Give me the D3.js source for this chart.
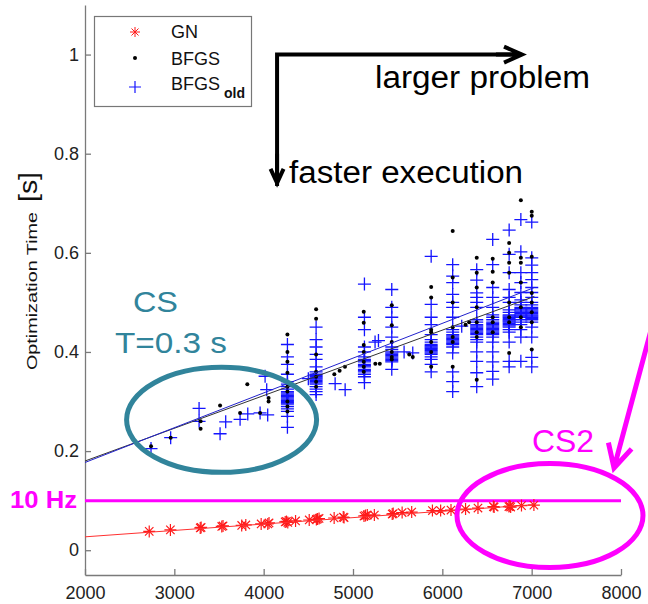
<!DOCTYPE html>
<html>
<head>
<meta charset="utf-8">
<script src="https://cdn.jsdelivr.net/npm/d3@7"></script>
<style>
  body { margin: 0; background: #fff; }
  svg { font-family: Arial, "Liberation Sans", sans-serif; }
</style>
</head>
<body>
<svg id="chart" width="648" height="604"></svg>
<script>
// problem size vs optimization time
const xTicks = [2000, 3000, 4000, 5000, 6000, 7000, 8000];
const yTicks = [0, 0.2, 0.4, 0.6, 0.8, 1];

// GN: [size, time]
const gnPoints = [
    [2719, 0.038], [2956, 0.041], [3290, 0.045], [3300, 0.046], [3531, 0.048], [3545, 0.049],
    [3754, 0.05], [3800, 0.051], [3972, 0.053], [4046, 0.053], [4060, 0.055], [4241, 0.057],
    [4255, 0.058], [4270, 0.056], [4357, 0.059], [4510, 0.061], [4590, 0.062], [4603, 0.063],
    [4620, 0.064], [4789, 0.065], [4891, 0.067], [4900, 0.066], [5123, 0.069], [5140, 0.07],
    [5160, 0.071], [5239, 0.071], [5439, 0.073], [5450, 0.074], [5550, 0.076], [5657, 0.077],
    [5889, 0.08], [5981, 0.08], [6097, 0.081], [6260, 0.083], [6399, 0.085], [6571, 0.088],
    [6580, 0.087], [6745, 0.088], [6756, 0.089], [6765, 0.087], [6886, 0.09], [7025, 0.091]
];

// BFGS: [size, [times]]
const bfgsColumns = [
    [2739, [0.21]], [2959, [0.227]], [3294, [0.26, 0.245]], [3512, [0.292]], [3736, [0.277]],
    [3817, [0.335]], [3960, [0.277]], [4055, [0.307, 0.3]],
    [4266, [0.435, 0.4, 0.38, 0.358, 0.33, 0.32, 0.3, 0.29, 0.28]],
    [4587, [0.486, 0.467, 0.395, 0.36, 0.35, 0.34, 0.33]],
    [4791, [0.355]], [4850, [0.362]], [4910, [0.37]],
    [5120, [0.481, 0.459, 0.414, 0.4, 0.38, 0.37, 0.36]],
    [5250, [0.376]], [5300, [0.376]],
    [5434, [0.494, 0.454, 0.42, 0.4, 0.39, 0.385]],
    [5630, [0.395]], [5669, [0.39]],
    [5875, [0.531, 0.51, 0.445, 0.44, 0.42, 0.4, 0.37]],
    [6116, [0.644, 0.55, 0.5, 0.45, 0.43, 0.42, 0.37]],
    [6260, [0.455]], [6300, [0.46]],
    [6385, [0.59, 0.56, 0.53, 0.49, 0.46, 0.44, 0.43, 0.344]],
    [6564, [0.588, 0.562, 0.54, 0.47, 0.46, 0.44]],
    [6748, [0.62, 0.6, 0.58, 0.56, 0.5, 0.47, 0.46, 0.398]],
    [6879, [0.706, 0.59, 0.58, 0.54, 0.49, 0.47, 0.45]],
    [7001, [0.683, 0.675, 0.592, 0.519, 0.5, 0.48, 0.46, 0.405]]
];

// BFGS old: [size, [times]]
const oldColumns = [
    [2739, [0.205]], [2959, [0.227]], [3277, [0.286, 0.26]], [3512, [0.235]], [3575, [0.259]],
    [3736, [0.264]], [3822, [0.275]], [3960, [0.277]], [4016, [0.351]], [4034, [0.324]], [4045, [0.273]],
    [4266, [0.415, 0.39, 0.375, 0.355, 0.34, 0.335, 0.33, 0.325, 0.3175, 0.32, 0.315, 0.3125, 0.31, 0.3075,
        0.305, 0.3025, 0.3, 0.2975, 0.295, 0.29, 0.285, 0.28, 0.27, 0.248]],
    [4500, [0.346]],
    [4587, [0.45, 0.425, 0.41, 0.395, 0.385, 0.37, 0.36, 0.355, 0.3525, 0.35, 0.3475, 0.345, 0.3425, 0.34,
        0.3375, 0.335, 0.33, 0.325, 0.32, 0.314]],
    [4800, [0.336]], [4912, [0.324]],
    [5128, [0.537, 0.47, 0.445, 0.41, 0.4, 0.39, 0.385, 0.3825, 0.38, 0.375, 0.3725, 0.37, 0.365, 0.3625,
        0.36, 0.355, 0.35, 0.338]],
    [5247, [0.42]], [5285, [0.423]],
    [5434, [0.526, 0.49, 0.47, 0.45, 0.43, 0.41, 0.405, 0.4, 0.3975, 0.395, 0.3925, 0.39, 0.3875, 0.385,
        0.3825, 0.38, 0.365]],
    [5572, [0.4]], [5669, [0.398]],
    [5875, [0.593, 0.496, 0.47, 0.455, 0.435, 0.425, 0.42, 0.415, 0.4125, 0.41, 0.4075, 0.405, 0.4025, 0.4,
        0.3975, 0.395, 0.39, 0.385, 0.375, 0.36]],
    [6116, [0.576, 0.553, 0.54, 0.516, 0.5, 0.49, 0.47, 0.445, 0.44, 0.435, 0.4325, 0.43, 0.4275, 0.425,
        0.4225, 0.42, 0.4175, 0.415, 0.41, 0.398, 0.36, 0.34, 0.32]],
    [6217, [0.452]],
    [6385, [0.566, 0.545, 0.519, 0.51, 0.5, 0.49, 0.465, 0.46, 0.455, 0.4525, 0.45, 0.4475, 0.445, 0.4425,
        0.44, 0.4375, 0.435, 0.43, 0.425, 0.42, 0.4, 0.381, 0.358, 0.33]],
    [6564, [0.627, 0.576, 0.53, 0.51, 0.49, 0.475, 0.47, 0.465, 0.46, 0.4575, 0.455, 0.4525, 0.45, 0.4475,
        0.445, 0.4425, 0.44, 0.4375, 0.435, 0.43, 0.42, 0.4, 0.38, 0.361, 0.345]],
    [6748, [0.646, 0.597, 0.56, 0.526, 0.51, 0.5, 0.485, 0.48, 0.475, 0.4725, 0.47, 0.4675, 0.465, 0.4625,
        0.46, 0.4575, 0.455, 0.4525, 0.45, 0.445, 0.44, 0.42, 0.381, 0.37]],
    [6879, [0.667, 0.602, 0.56, 0.54, 0.52, 0.505, 0.5, 0.495, 0.49, 0.4875, 0.485, 0.4825, 0.48, 0.4775,
        0.475, 0.4725, 0.47, 0.465, 0.46, 0.455, 0.445, 0.43, 0.381]],
    [7001, [0.662, 0.59, 0.575, 0.56, 0.546, 0.53, 0.52, 0.51, 0.5, 0.495, 0.49, 0.4875, 0.485, 0.4825,
        0.48, 0.4775, 0.475, 0.4725, 0.47, 0.4675, 0.465, 0.46, 0.45, 0.43, 0.389, 0.37]]
];

// linear fits, end points
const gnFit = [[2000, 0.027], [7030, 0.092]];
const bfgsFit = [[2000, 0.18], [7030, 0.512]];
const oldFit = [[2000, 0.177], [7030, 0.53]];

const rateLimit = 0.1; // 10 Hz

const svg = d3.select("#chart");

const x = d3.scaleLinear().domain([2000, 8000]).range([85, 621]);
const y = d3.scaleLinear().domain([-0.05, 1.1]).range([575, 5]);

const flatten = cols => cols.flatMap(([n, ts]) => ts.map(t => [n, t]));

const starPath = s => `M${-s},0H${s}M0,${-s}V${s}M${-s * 0.7},${-s * 0.7}L${s * 0.7},${s * 0.7}M${-s * 0.7},${s * 0.7}L${s * 0.7},${-s * 0.7}`;
const plusPath = s => `M${-s},0H${s}M0,${-s}V${s}`;

// axes
const xAxis = svg.append("g")
    .attr("transform", "translate(0,575)")
    .call(d3.axisBottom(x).tickValues(xTicks).tickFormat(d3.format("d"))
        .tickSizeInner(-6).tickSizeOuter(0).tickPadding(11));

const yAxis = svg.append("g")
    .attr("transform", "translate(85,0)")
    .call(d3.axisLeft(y).tickValues(yTicks).tickFormat(d => d)
        .tickSizeInner(-6).tickSizeOuter(0).tickPadding(6));

[xAxis, yAxis].forEach(g => {
    g.select(".domain").attr("stroke", "#7a7a7a").attr("stroke-width", 1.3);
    g.selectAll(".tick line").attr("stroke", "#7a7a7a").attr("stroke-width", 1.3);
    g.selectAll(".tick text").attr("fill", "#222").style("font-size", "18px")
        .style("font-family", "Arial, 'Liberation Sans', sans-serif");
});

svg.append("text")
    .attr("transform", "translate(37,370) rotate(-90)")
    .attr("textLength", 158).attr("lengthAdjust", "spacingAndGlyphs")
    .style("font-size", "14px").attr("fill", "#111")
    .text("Optimization Time");
svg.append("text")
    .attr("transform", "translate(37,202) rotate(-90)")
    .attr("textLength", 30).attr("lengthAdjust", "spacingAndGlyphs")
    .style("font-size", "25px").attr("fill", "#111")
    .text("[s]");

// 10 Hz limit
svg.append("line")
    .attr("x1", x(2000)).attr("x2", x(8000))
    .attr("y1", y(rateLimit)).attr("y2", y(rateLimit))
    .attr("stroke", "#ff00ff").attr("stroke-width", 3);

// data
const line = d3.line().x(d => x(d[0])).y(d => y(d[1]));

svg.append("g").selectAll("path").data(gnPoints).enter().append("path")
    .attr("d", starPath(6))
    .attr("transform", d => `translate(${x(d[0])},${y(d[1])})`)
    .attr("stroke", "#ff1a1a").attr("stroke-width", 1.2).attr("fill", "none");

svg.append("path").datum(gnFit).attr("d", line)
    .attr("stroke", "#ff3030").attr("stroke-width", 1).attr("fill", "none");

svg.append("g").selectAll("path").data(flatten(oldColumns)).enter().append("path")
    .attr("d", plusPath(6.5))
    .attr("transform", d => `translate(${x(d[0])},${y(d[1])})`)
    .attr("stroke", "#1414ff").attr("stroke-width", 1.3).attr("fill", "none");

svg.append("g").selectAll("circle").data(flatten(bfgsColumns)).enter().append("circle")
    .attr("cx", d => x(d[0])).attr("cy", d => y(d[1])).attr("r", 2)
    .attr("fill", "#000");

svg.append("path").datum(bfgsFit).attr("d", line)
    .attr("stroke", "#333").attr("stroke-width", 1).attr("fill", "none");
svg.append("path").datum(oldFit).attr("d", line)
    .attr("stroke", "#2222cc").attr("stroke-width", 1).attr("fill", "none");

// annotations
const arrow = (from, to, color, width, head, half) => {
    const x0 = x(from[0]), y0 = y(from[1]), x1 = x(to[0]), y1 = y(to[1]);
    const len = Math.hypot(x1 - x0, y1 - y0);
    const ux = (x1 - x0) / len, uy = (y1 - y0) / len;
    const bx = x1 - ux * head, by = y1 - uy * head;
    svg.append("path")
        .attr("d", `M${x0},${y0}L${x1},${y1}M${bx - uy * half},${by + ux * half}L${x1},${y1}L${bx + uy * half},${by - ux * half}`)
        .attr("stroke", color).attr("stroke-width", width).attr("fill", "none")
        .attr("stroke-linecap", "butt").attr("stroke-linejoin", "miter");
};

svg.append("path")
    .attr("d", `M${x(4150)},${y(0.735)}V${y(1.0)}H${x(6880)}`)
    .attr("stroke", "#000").attr("stroke-width", 4).attr("fill", "none");
arrow([6600, 1.0], [6892, 1.0], "#000", 4, 18, 8);
arrow([4150, 0.8], [4150, 0.741], "#000", 4, 14, 6.5);

svg.append("text").attr("x", x(5246)).attr("y", y(0.9325))
    .attr("textLength", 215).attr("lengthAdjust", "spacingAndGlyphs")
    .style("font-size", "31px").attr("fill", "#000").text("larger problem");
svg.append("text").attr("x", x(4284)).attr("y", y(0.741))
    .attr("textLength", 234).attr("lengthAdjust", "spacingAndGlyphs")
    .style("font-size", "31px").attr("fill", "#000").text("faster execution");

const teal = "#31849b";
svg.append("ellipse")
    .attr("cx", x(3529)).attr("cy", y(0.263)).attr("rx", 95).attr("ry", 52.5)
    .attr("stroke", teal).attr("stroke-width", 5).attr("fill", "none");
svg.append("text").attr("x", x(2537)).attr("y", y(0.4806))
    .attr("textLength", 45).attr("lengthAdjust", "spacingAndGlyphs")
    .style("font-size", "29px").attr("fill", teal).text("CS");
svg.append("text").attr("x", x(2336)).attr("y", y(0.398))
    .attr("textLength", 112).attr("lengthAdjust", "spacingAndGlyphs")
    .style("font-size", "29px").attr("fill", teal).text("T=0.3 s");

const magenta = "#ff00ff";
svg.append("ellipse")
    .attr("cx", x(7205)).attr("cy", y(0.07)).attr("rx", 93).attr("ry", 52)
    .attr("stroke", magenta).attr("stroke-width", 5).attr("fill", "none");
svg.append("text").attr("x", x(7004)).attr("y", y(0.198))
    .attr("textLength", 62).attr("lengthAdjust", "spacingAndGlyphs")
    .style("font-size", "31px").attr("fill", magenta).text("CS2");
arrow([8360, 0.46], [7922, 0.166], magenta, 5, 23, 12);
svg.append("text").attr("x", 77).attr("y", y(0.085))
    .attr("text-anchor", "end")
    .attr("textLength", 67).attr("lengthAdjust", "spacingAndGlyphs")
    .style("font-size", "23px").style("font-weight", "bold")
    .attr("fill", magenta).text("10 Hz");

// legend
const legend = svg.append("g");
legend.append("rect").attr("x", 94.5).attr("y", 16.5).attr("width", 157).attr("height", 90)
    .attr("fill", "#fff").attr("stroke", "#777").attr("stroke-width", 1.2);
legend.append("path").attr("d", starPath(5)).attr("transform", "translate(135,32)")
    .attr("stroke", "#ff1a1a").attr("fill", "none");
legend.append("circle").attr("cx", 135).attr("cy", 58).attr("r", 2).attr("fill", "#000");
legend.append("path").attr("d", plusPath(6)).attr("transform", "translate(135,87)")
    .attr("stroke", "#1414ff").attr("stroke-width", 1.2).attr("fill", "none");
const legendText = [["GN", 38], ["BFGS", 65], ["BFGS", 90]];
legend.selectAll("text.lab").data(legendText).enter().append("text")
    .attr("class", "lab")
    .attr("x", 171).attr("y", d => d[1])
    .style("font-size", "18px").attr("fill", "#111")
    .text(d => d[0]);
legend.append("text").attr("x", 224).attr("y", 98)
    .style("font-size", "14px").style("font-weight", "bold").attr("fill", "#111")
    .text("old");
</script>
</body>
</html>
